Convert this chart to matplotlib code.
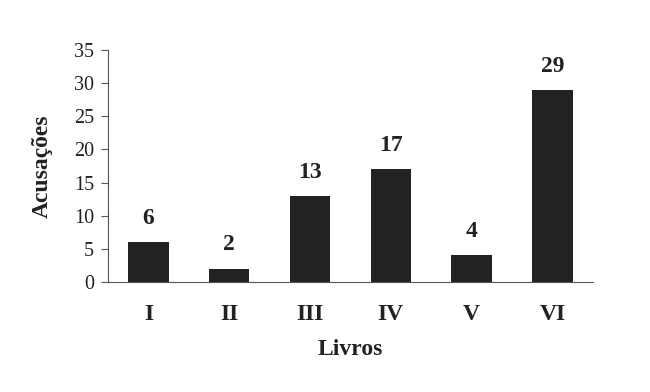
import matplotlib.pyplot as plt

livros = ['I', 'II', 'III', 'IV', 'V', 'VI']
acusacoes = [6, 2, 13, 17, 4, 29]

plt.rcParams['font.family'] = 'Liberation Serif'

fig = plt.figure(figsize=(6.5, 3.92), dpi=100)
ax = fig.add_axes([0.166, 0.281, 0.746, 0.591])

x = range(len(livros))
barras = ax.bar(x, acusacoes, width=0.5, color='#222222')
for b, v in zip(barras, acusacoes):
    ax.text(b.get_x() + b.get_width() / 2, v + 2.0, str(v), ha='center', va='bottom',
            fontsize=17, fontweight='bold', color='#222222')

ax.set_xlim(-0.5, 5.5)
ax.set_ylim(0, 35)
ax.set_yticks(range(0, 36, 5))
ax.set_xticks(list(x))
ax.set_xticklabels(livros, fontsize=17, fontweight='bold', color='#222222')
ax.tick_params(axis='x', length=0, pad=16)
ax.tick_params(axis='y', length=5, width=0.8, labelsize=14.5, pad=5, color='#555555',
               labelcolor='#222222')
ax.spines['top'].set_visible(False)
ax.spines['right'].set_visible(False)
ax.spines['left'].set_color('#555555')
ax.spines['bottom'].set_color('#555555')
ax.set_xlabel('Livros', fontsize=17, fontweight='bold', labelpad=10, color='#222222')
ax.set_ylabel('Acusações', fontsize=17, fontweight='bold', labelpad=15, color='#222222')

fig.savefig('out.png', dpi=100)
